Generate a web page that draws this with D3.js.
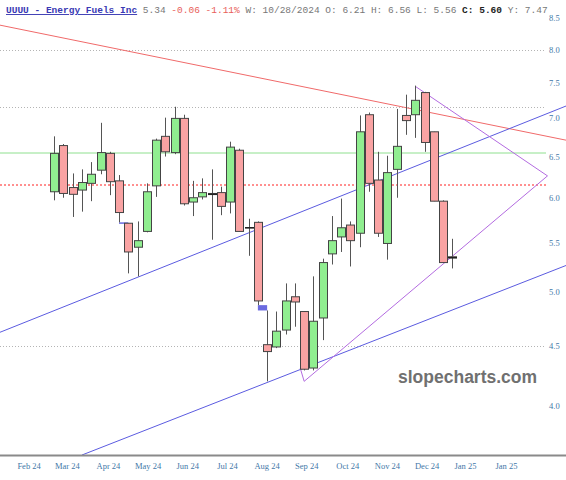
<!DOCTYPE html>
<html><head><meta charset="utf-8">
<script src="https://cdn.jsdelivr.net/npm/d3@7"></script>
<style>html,body{margin:0;padding:0;background:#fff;}svg{display:block;}</style>
</head><body>
<svg id="chart" width="566" height="480"></svg>
<script>
// ---- data ----
const dates = ["2024-02-26","2024-03-04","2024-03-11","2024-03-18","2024-03-25","2024-04-01","2024-04-08","2024-04-15","2024-04-22","2024-04-29",
"2024-05-06","2024-05-13","2024-05-20","2024-05-27","2024-06-03","2024-06-10","2024-06-17","2024-06-24","2024-07-01","2024-07-08",
"2024-07-15","2024-07-22","2024-07-29","2024-08-05","2024-08-12","2024-08-19","2024-08-26","2024-09-02","2024-09-09","2024-09-16",
"2024-09-23","2024-09-30","2024-10-07","2024-10-14","2024-10-21","2024-10-28","2024-11-04","2024-11-11","2024-11-18","2024-11-25",
"2024-12-02","2024-12-09","2024-12-16","2024-12-23"];
const opens  = [6.07,6.64,6.12,6.09,6.17,6.33,6.54,6.20,5.71,5.45, 5.62,6.14,6.76,6.55,7.00,5.95,6.01,6.05,6.06,5.95, 6.58,5.66,5.72,4.51,4.49,4.64,4.95,4.81,4.31,4.75, 5.38,5.56,5.69,5.60,7.05,6.21,5.49,6.34,7.04,7.05, 7.36,6.82,5.96,5.35];
const highs  = [6.76,6.66,6.29,6.34,6.43,6.94,6.56,6.27,5.71,5.73, 6.17,6.73,7.01,7.16,7.05,6.20,6.23,6.34,6.13,6.69, 6.60,5.76,5.73,4.82,4.81,5.08,5.08,4.81,5.15,5.33, 5.79,5.99,5.73,7.04,7.08,6.56,6.51,7.13,7.33,7.46, 7.37,6.82,5.97,5.54];
const lows   = [5.97,6.00,5.78,5.84,5.96,6.28,6.03,5.72,5.18,5.15, 5.61,6.01,6.50,6.53,5.91,5.79,5.98,5.53,5.80,5.82, 5.62,5.36,4.87,4.20,4.48,4.60,4.67,4.29,4.29,4.55, 5.27,5.40,5.25,5.45,6.07,5.56,5.32,6.00,6.78,6.74, 6.56,5.96,5.29,5.23];
const closes = [6.54,6.05,6.04,6.18,6.28,6.55,6.19,5.83,5.40,5.52, 6.07,6.71,6.56,7.00,5.93,6.00,6.06,6.04,5.90,6.62, 5.62,5.66,4.91,4.45,4.63,4.91,4.90,4.30,4.72,5.29, 5.52,5.66,5.52,6.82,6.17,5.60,6.30,6.63,6.97,7.25, 6.68,5.96,5.29,5.34];

const yTicks = [4.0,4.5,5.0,5.5,6.0,6.5,7.0,7.5,8.0,8.5];
const xTickDates  = ["2024-02-07","2024-03-07","2024-04-07","2024-05-07","2024-06-06","2024-07-06","2024-08-05","2024-09-04","2024-10-05","2024-11-04","2024-12-04","2025-01-02","2025-02-02"];
const xTickLabels = ["Feb 24","Mar 24","Apr 24","May 24","Jun 24","Jul 24","Aug 24","Sep 24","Oct 24","Nov 24","Dec 24","Jan 25","Jan 25"];

// horizontal levels
const grayLevels = [8.0, 7.15, 4.5];
const greenLevel = 6.55;
const redLevel = 6.15;

// trend lines [date, value]
const redLine    = [["2024-01-16",8.39],["2025-03-19",6.71]];
const blueUpper  = [["2024-01-16",4.62],["2025-03-19",7.17]];
const blueLower  = [["2024-03-18",3.64],["2025-03-19",5.26]];
const purpleLine = [["2024-08-30",4.31],["2024-09-02",4.20],["2025-03-05",6.26],["2024-11-25",7.45]];

const header = [
  {t:"UUUU - Energy Fuels Inc", c:"#3a3ab4", w:"bold", u:true},
  {t:" 5.34", c:"#777"},
  {t:" -0.06 -1.11%", c:"#e8605a"},
  {t:" W: 10/28/2024 O: 6.21 H: 6.56 L: 5.56", c:"#777"},
  {t:" C: 5.60", c:"#222", w:"bold"},
  {t:" Y: 7.47", c:"#777"}
];

// ---- chart ----
const W = 566, H = 480, plotBottom = 455;
const svg = d3.select("#chart");
const parse = d3.utcParse("%Y-%m-%d");
const x = d3.scaleUtc().domain([parse("2024-01-16"), parse("2025-03-19")]).range([0, W]);
const y = d3.scaleLog().domain([3.64, 8.81]).range([plotBottom, 0]);

const candles = dates.map((d,i)=>({d:parse(d),o:opens[i],h:highs[i],l:lows[i],c:closes[i]}));

// horizontal levels
svg.append("g").selectAll("line").data(grayLevels).join("line")
  .attr("x1",0).attr("x2",546).attr("y1",d=>Math.round(y(d))+0.5).attr("y2",d=>Math.round(y(d))+0.5)
  .attr("stroke","#b4b4b4").attr("stroke-width",1).attr("stroke-dasharray","1,2");
svg.append("line").attr("x1",0).attr("x2",546).attr("y1",Math.round(y(greenLevel))).attr("y2",Math.round(y(greenLevel)))
  .attr("stroke","#8fe08f").attr("stroke-width",1);
svg.append("line").attr("x1",0).attr("x2",546).attr("y1",Math.round(y(redLevel))).attr("y2",Math.round(y(redLevel)))
  .attr("stroke","#ff2020").attr("stroke-width",1).attr("stroke-dasharray","2,2");

// watermark
svg.append("text").attr("x",398).attr("y",383).text("slopecharts.com")
  .attr("font-family","Liberation Sans, Arial, sans-serif").attr("font-weight","bold").attr("font-size",17.5).attr("fill","#707070");

// trend lines
const line = d3.line().x(d=>x(parse(d[0]))).y(d=>y(d[1]));
svg.append("path").attr("d",line(redLine)).attr("fill","none").attr("stroke","#f06a6a").attr("stroke-width",1);
svg.append("path").attr("d",line(blueUpper)).attr("fill","none").attr("stroke","#5b5be0").attr("stroke-width",1);
svg.append("path").attr("d",line(blueLower)).attr("fill","none").attr("stroke","#5b5be0").attr("stroke-width",1);
svg.append("path").attr("d",line(purpleLine)).attr("fill","none").attr("stroke","#b36be0").attr("stroke-width",1);

// gap markers
const gaps = [];
for (let i=0;i<candles.length-1;i++){
  const a=candles[i], b=candles[i+1];
  if (a.l > b.h) gaps.push({x0:a.d,x1:b.d,top:a.l,bot:b.h});
}
svg.append("g").selectAll("rect").data(gaps).join("rect")
  .attr("x",d=>x(d.x0)).attr("width",d=>x(d.x1)-x(d.x0))
  .attr("y",d=>y(d.top)).attr("height",d=>Math.max(1.5,y(d.bot)-y(d.top)))
  .attr("fill","#6a6ae0");

// candles
const bw = 8;
const g = svg.append("g");
g.selectAll("line.wick").data(candles).join("line").attr("class","wick")
  .attr("x1",d=>Math.round(x(d.d))+0.5).attr("x2",d=>Math.round(x(d.d))+0.5)
  .attr("y1",d=>y(d.h)).attr("y2",d=>y(d.l)).attr("stroke","#555").attr("stroke-width",1);
g.selectAll("rect.body").data(candles).join("rect").attr("class","body")
  .attr("x",d=>Math.round(x(d.d))-bw/2+0.5).attr("width",bw)
  .attr("y",d=>y(Math.max(d.o,d.c))).attr("height",d=>Math.max(0.01,Math.abs(y(d.o)-y(d.c))))
  .attr("fill",d=>d.c>=d.o?"#90ee90":"#f9a3a3").attr("stroke","#444").attr("stroke-width",1);
// doji ticks
g.selectAll("line.doji").data(candles.filter(d=>Math.abs(y(d.o)-y(d.c))<1.5)).join("line").attr("class","doji")
  .attr("x1",d=>Math.round(x(d.d))-bw/2).attr("x2",d=>Math.round(x(d.d))+bw/2+1)
  .attr("y1",d=>y(d.c)).attr("y2",d=>y(d.c)).attr("stroke","#222").attr("stroke-width",1.5);

// bottom axis
svg.append("line").attr("x1",0).attr("x2",W).attr("y1",plotBottom+0.5).attr("y2",plotBottom+0.5)
  .attr("stroke","#8a8a8a").attr("stroke-width",2);
svg.append("g").selectAll("text").data(xTickDates).join("text")
  .attr("x",d=>x(parse(d))).attr("y",469).attr("text-anchor","middle")
  .attr("font-family","Liberation Serif, serif").attr("font-size",8.5).attr("fill","#3f78a8")
  .text((d,i)=>xTickLabels[i]);

// right axis
svg.append("g").selectAll("text").data(yTicks).join("text")
  .attr("x",549).attr("y",d=>y(d)+3).attr("font-family","Liberation Serif, serif").attr("font-size",8.5).attr("fill","#3f78a8")
  .text(d=>d.toFixed(1));

// header
const ht = svg.append("text").attr("x",6).attr("y",13).attr("font-family","Liberation Mono, Courier New, monospace").attr("font-size",9.5)
  .attr("xml:space","preserve").style("white-space","pre");
header.forEach(h=>{
  ht.append("tspan").text(h.t).attr("fill",h.c).attr("font-weight",h.w||"normal").attr("text-decoration",h.u?"underline":null);
});
</script>
</body></html>
